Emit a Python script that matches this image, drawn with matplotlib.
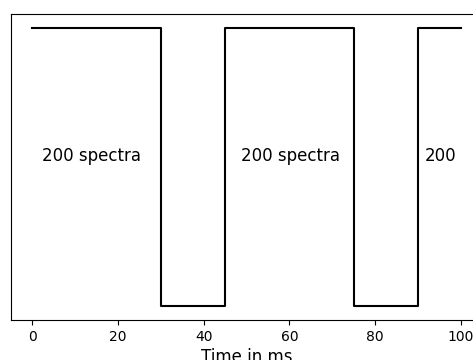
import matplotlib
matplotlib.use("Agg")
import matplotlib.pyplot as plt

time_ms = [0, 30, 30, 45, 45, 75, 75, 90, 90, 100]
signal = [1, 1, 0, 0, 1, 1, 0, 0, 1, 1]
label_x = [2.3, 48.8, 91.6]
label_texts = ["200 spectra", "200 spectra", "200"]
xticks = [0, 20, 40, 60, 80, 100]

fig = plt.figure(figsize=(4.73, 3.60), dpi=100)
W, H = 473, 360
ax = fig.add_axes([11 / W, (H - 320) / H, (482 - 11) / W, (320 - 14) / H])
ax.plot(time_ms, signal, color="black", linewidth=1.5)
ax.set_xlim(-5, 105)
ax.set_ylim(-0.05, 1.05)
ax.set_yticks([])
ax.set_xticks(xticks)
ax.set_xlabel("Time in ms", fontsize=12, labelpad=3)
for x, t in zip(label_x, label_texts):
    ax.text(x, 0.52, t, fontsize=12, va="baseline", ha="left")

fig.savefig("out.png", dpi=100)
